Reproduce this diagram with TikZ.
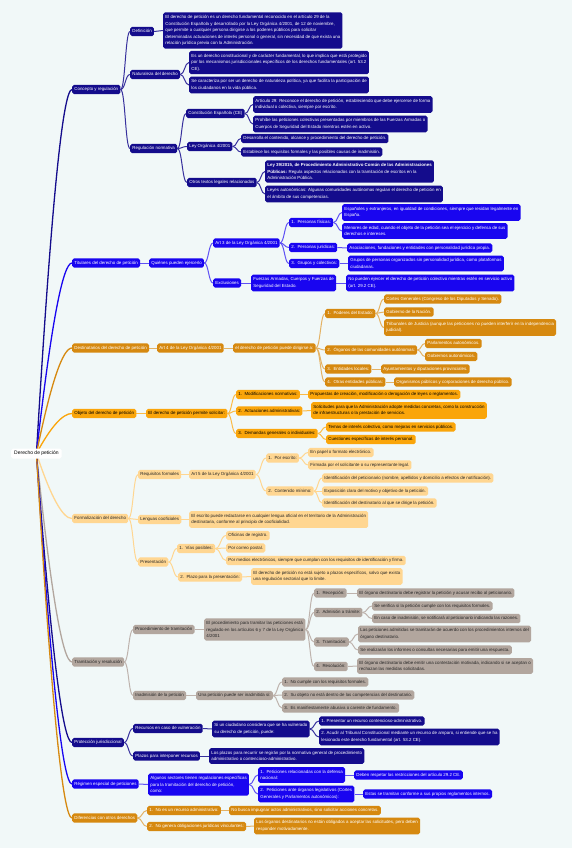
\documentclass[tikz,border=0pt]{standalone}
\usepackage{fontspec}
\setmainfont{Liberation Sans}
\usetikzlibrary{calc}
\definecolor{bgc}{RGB}{241,248,248}
\definecolor{cnavy}{RGB}{20,12,140}
\definecolor{cblue}{RGB}{25,5,240}
\definecolor{cdor}{RGB}{214,137,16}
\definecolor{cora}{RGB}{250,165,10}
\definecolor{clor}{RGB}{255,214,145}
\definecolor{cgr}{RGB}{178,166,158}
\newcommand\fs{\fontsize{4.4}{6.5}\selectfont}
\newcommand\lk[3]{\draw[#1] (#2.east) .. controls ($(#2.east)!0.5!(#3.west |- #2.east)$) and ($(#3.west)!0.5!(#2.east |- #3.west)$) .. (#3.west);}
\newcommand\rk[2]{\draw[#1] (root.center) .. controls ($(root.center)!0.6667!(rx |- #2.west)$) and ($(#2.west)!0.6667!(rx |- #2.west)$) .. (#2.west);}
\pgfdeclarelayer{back}
\pgfdeclarelayer{lines}
\pgfsetlayers{back,lines,main}
\begin{document}
\begin{tikzpicture}[x=1pt,y=-1pt,
  every node/.style={font=\fs},
  box/.style={rounded corners=1.8pt, inner xsep=2.2pt, anchor=west},
  one/.style={box, inner ysep=2.5pt, text height=3.3pt, text depth=1.1pt},
  multi/.style={box, inner ysep=3pt, align=left},
  nv/.style={fill=cnavy, text=white},
  bl/.style={fill=cblue, text=white},
  dor/.style={fill=cdor, text=white},
  ora/.style={fill=cora, text=black},
  lor/.style={fill=clor, text=black!85},
  gr/.style={fill=cgr, text=black!85},
  lnk/.style={line width=1pt},
  lnv/.style={lnk, draw=cnavy!85},
  lbl/.style={lnk, draw=cblue!70},
  ldor/.style={lnk, draw=cdor!65},
  lora/.style={lnk, draw=cora!75},
  llor/.style={lnk, draw=clor},
  lgr/.style={lnk, draw=cgr!85},
  rl/.style={line width=1.3pt}
]
\useasboundingbox (0,0) rectangle (572,848);
\coordinate (rx) at (58,0);
% root
\node[box, fill=white, text=black, inner xsep=3pt, inner ysep=2.5pt, text height=3.8pt, text depth=1.2pt, font=\fontsize{5}{6}\selectfont] (root) at (11,453.5) {Derecho de petición};
% ---------------- Concepto
\node[one,nv] (con) at (72,89.5) {Concepto y regulación};
\node[one,nv] (def) at (130,31.5) {Definición};
\node[multi,nv] (defT) at (163,30.5) {El derecho de petición es un derecho fundamental reconocido en el artículo 29 de la\\Constitución Española y desarrollado por la Ley Orgánica 4/2001, de 12 de noviembre,\\que permite a cualquier persona dirigirse a los poderes públicos para solicitar\\determinadas actuaciones de interés personal o general, sin necesidad de que exista una\\relación jurídica previa con la Administración.};
\node[one,nv] (nat) at (130,74.5) {Naturaleza del derecho};
\node[multi,nv] (nat1) at (189,62.5) {Es un derecho constitucional y de carácter fundamental, lo que implica que está protegido\\por los mecanismos jurisdiccionales específicos de los derechos fundamentales (art. 53.2\\CE).};
\node[multi,nv] (nat2) at (189,85) {Se caracteriza por ser un derecho de naturaleza política, ya que facilita la participación de\\los ciudadanos en la vida pública.};
\node[one,nv] (reg) at (130,148.5) {Regulación normativa};
\node[one,nv] (ce) at (186,113.5) {Constitución Española (CE)};
\node[multi,nv] (a29) at (253,104.5) {Artículo 29: Reconoce el derecho de petición, estableciendo que debe ejercerse de forma\\individual o colectiva, siempre por escrito.};
\node[multi,nv] (proh) at (253,124) {Prohíbe las peticiones colectivas presentadas por miembros de las Fuerzas Armadas o\\Cuerpos de Seguridad del Estado mientras estén en activo.};
\node[one,nv] (lo) at (187,146.5) {Ley Orgánica 4/2001};
\node[one,nv] (desa) at (241,138.5) {Desarrolla el contenido, alcance y procedimiento del derecho de petición.};
\node[one,nv] (esta) at (241,152) {Establece los requisitos formales y las posibles causas de inadmisión.};
\node[one,nv] (otr) at (187,182.5) {Otros textos legales relacionados};
\node[multi,nv] (l39) at (265,171.5) {{\bfseries Ley 39/2015, de Procedimiento Administrativo Común de las Administraciones}\\{\bfseries Públicas:} Regula aspectos relacionados con la tramitación de escritos en la\\Administración Pública.};
\node[multi,nv] (lau) at (265,194) {Leyes autonómicas: Algunas comunidades autónomas regulan el derecho de petición en\\el ámbito de sus competencias.};
% ---------------- Titulares
\node[one,bl] (tit) at (72,263) {Titulares del derecho de petición};
\node[one,bl] (qui) at (149,263) {Quiénes pueden ejercerlo};
\node[one,bl] (art3) at (213,243) {Art 3 de la Ley Orgánica 4/2001};
\node[one,bl] (exc) at (213,283) {Exclusiones};
\node[multi,bl] (fue) at (251,283) {Fuerzas Armadas, Cuerpos y Fuerzas de\\Seguridad del Estado.};
\node[multi,bl] (nop) at (346,283) {No pueden ejercer el derecho de petición colectivo mientras estén en servicio activo\\(art. 29.2 CE).};
\node[one,bl] (pf) at (289,222.5) {1.~~Personas físicas:};
\node[multi,bl] (esp) at (342,212.5) {Españoles y extranjeros, en igualdad de condiciones, siempre que residan legalmente en\\España.};
\node[multi,bl] (men) at (342,231) {Menores de edad, cuando el objeto de la petición sea el ejercicio y defensa de sus\\derechos e intereses.};
\node[one,bl] (pj) at (289,247.5) {2.~~Personas jurídicas:};
\node[one,bl] (aso) at (347,248) {Asociaciones, fundaciones y entidades con personalidad jurídica propia.};
\node[one,bl] (gc) at (289,263.5) {3.~~Grupos y colectivos:};
\node[multi,bl] (gru) at (348,263.5) {Grupos de personas organizados sin personalidad jurídica, como plataformas\\ciudadanas.};
% ---------------- Destinatarios
\node[one,dor] (des) at (72,348) {Destinatarios del derecho de petición};
\node[one,dor] (art4) at (157,348) {Art 4 de la Ley Orgánica 4/2001};
\node[one,dor] (dir) at (233,348) {el derecho de petición puede dirigirse a:};
\node[one,dor] (pod) at (325,313.5) {1.~~Poderes del Estado:};
\node[one,dor] (cor) at (384,299) {Cortes Generales (Congreso de los Diputados y Senado).};
\node[one,dor] (gob) at (384,312) {Gobierno de la Nación.};
\node[multi,dor] (tri) at (384,327.5) {Tribunales de Justicia (aunque las peticiones no pueden interferir en la independencia\\judicial).};
\node[one,dor] (org) at (325,350) {2.~~Órganos de las comunidades autónomas:};
\node[one,dor] (par) at (425,343.5) {Parlamentos autonómicos.};
\node[one,dor] (goa) at (425,356.5) {Gobiernos autonómicos.};
\node[one,dor] (ent) at (325,369) {3.~~Entidades locales:};
\node[one,dor] (ayu) at (381,369) {Ayuntamientos y diputaciones provinciales.};
\node[one,dor] (oep) at (325,382) {4.~~Otras entidades públicas:};
\node[one,dor] (orp) at (394,382) {Organismos públicos y corporaciones de derecho público.};
% ---------------- Objeto
\node[one,ora] (obj) at (72,413.5) {Objeto del derecho de petición};
\node[one,ora] (per) at (146,413.5) {El derecho de petición permite solicitar:};
\node[one,ora] (mod) at (236,394.5) {1.~~Modificaciones normativas:};
\node[one,ora] (pro) at (308,394.5) {Propuestas de creación, modificación o derogación de leyes o reglamentos.};
\node[one,ora] (act) at (236,411) {2.~~Actuaciones administrativas:};
\node[multi,ora] (sol) at (311,410.5) {Solicitudes para que la Administración adopte medidas concretas, como la construcción\\de infraestructuras o la prestación de servicios.};
\node[one,ora] (dem) at (236,433.5) {3.~~Demandas generales o individuales:};
\node[one,ora] (tem) at (326,427) {Temas de interés colectivo, como mejoras en servicios públicos.};
\node[one,ora] (cue) at (326,439.5) {Cuestiones específicas de interés personal.};
% ---------------- Formalizacion
\node[one,lor] (for) at (72,518.5) {Formalización del derecho};
\node[one,lor] (req) at (138,474.5) {Requisitos formales};
\node[one,lor] (art5) at (189,474.5) {Art 5 de la Ley Orgánica 4/2001};
\node[one,lor] (esc) at (266,458) {1.~~Por escrito:};
\node[one,lor] (pap) at (308,452.5) {En papel o formato electrónico.};
\node[one,lor] (fir) at (308,465) {Firmada por el solicitante o su representante legal.};
\node[one,lor] (cmi) at (266,491) {2.~~Contenido mínimo:};
\node[one,lor] (id1) at (322,478) {Identificación del peticionario (nombre, apellidos y domicilio a efectos de notificación).};
\node[one,lor] (exp) at (322,491) {Exposición clara del motivo y objetivo de la petición.};
\node[one,lor] (id2) at (322,503) {Identificación del destinatario al que se dirige la petición.};
\node[one,lor] (len) at (138,519.5) {Lenguas cooficiales};
\node[multi,lor] (lenT) at (189,519.5) {El escrito puede redactarse en cualquier lengua oficial en el territorio de la Administración\\destinataria, conforme al principio de cooficialidad.};
\node[one,lor] (pre) at (138,562) {Presentación};
\node[one,lor] (via) at (177,548.5) {1.~~Vías posibles:};
\node[one,lor] (ofi) at (226,535.5) {Oficinas de registro.};
\node[one,lor] (cpo) at (226,548) {Por correo postal.};
\node[one,lor] (mel) at (226,560.5) {Por medios electrónicos, siempre que cumplan con los requisitos de identificación y firma.};
\node[one,lor] (pla) at (178,577) {2.~~Plazo para la presentación:};
\node[multi,lor] (plaT) at (251,576.5) {El derecho de petición no está sujeto a plazos específicos, salvo que exista\\una regulación sectorial que lo limite.};
% ---------------- Tramitacion
\node[one,gr] (tra) at (72,662) {Tramitación y resolución};
\node[one,gr] (prc) at (133,629.5) {Procedimiento de tramitación};
\node[multi,gr] (prcT) at (204,629.5) {El procedimiento para tramitar las peticiones está\\regulado en los artículos 6 y 7 de la Ley Orgánica\\4/2001};
\node[one,gr] (rec) at (314,593) {1.~~Recepción:};
\node[one,gr] (recT) at (357,593) {El órgano destinatario debe registrar la petición y acusar recibo al peticionario.};
\node[one,gr] (adm) at (314,612.5) {2.~~Admisión a trámite:};
\node[one,gr] (ver) at (372,606) {Se verifica si la petición cumple con los requisitos formales.};
\node[one,gr] (cas) at (372,618.5) {En caso de inadmisión, se notificará al peticionario indicando las razones.};
\node[one,gr] (trm) at (314,642) {3.~~Tramitación:};
\node[multi,gr] (adT) at (358,634) {Las peticiones admitidas se tramitarán de acuerdo con los procedimientos internos del\\órgano destinatario.};
\node[one,gr] (rea) at (358,650) {Se realizarán los informes o consultas necesarias para emitir una respuesta.};
\node[one,gr] (res) at (314,666.5) {4.~~Resolución:};
\node[multi,gr] (resT) at (357,666) {El órgano destinatario debe emitir una contestación motivada, indicando si se aceptan o\\rechazan las medidas solicitadas.};
\node[one,gr] (ina) at (133,695.5) {Inadmisión de la petición};
\node[one,gr] (una) at (196,695.5) {Una petición puede ser inadmitida si:};
\node[one,gr] (n1) at (282,682) {1.~~No cumple con los requisitos formales.};
\node[one,gr] (n2) at (282,695) {2.~~Su objeto no está dentro de las competencias del destinatario.};
\node[one,gr] (n3) at (282,708) {3.~~Es manifiestamente abusiva o carente de fundamento.};
% ---------------- Proteccion
\node[one,nv] (prt) at (72,742.5) {Protección jurisdiccional};
\node[one,nv] (rcv) at (133,728.5) {Recursos en caso de vulneración};
\node[multi,nv] (siu) at (212,729) {Si un ciudadano considera que se ha vulnerado\\su derecho de petición, puede:};
\node[one,nv] (pr1) at (319,721) {1. Presentar un recurso contencioso-administrativo.};
\node[multi,nv] (pr2) at (319,737) {2. Acudir al Tribunal Constitucional mediante un recurso de amparo, si entiende que se ha\\lesionado este derecho fundamental (art. 53.2 CE).};
\node[one,nv] (pir) at (133,756) {Plazos para interponer recursos};
\node[multi,nv] (lpr) at (209,756) {Los plazos para recurrir se regirán por la normativa general de procedimiento\\administrativo o contencioso-administrativo.};
% ---------------- Regimen
\node[one,bl] (rge) at (72,784) {Régimen especial de peticiones};
\node[multi,bl] (alg) at (148,784.5) {Algunos sectores tienen regulaciones específicas\\para la tramitación del derecho de petición,\\como:};
\node[multi,bl] (pdn) at (258,775) {1.~~Peticiones relacionadas con la defensa\\nacional:};
\node[one,bl] (deb) at (354,775) {Deben respetar las restricciones del artículo 29.2 CE.};
\node[multi,bl] (pol) at (258,794) {2.~~Peticiones ante órganos legislativos (Cortes\\Generales y Parlamentos autonómicos):};
\node[one,bl] (est) at (363,794) {Estas se tramitan conforme a sus propios reglamentos internos.};
% ---------------- Diferencias
\node[one,dor] (dif) at (72,818) {Diferencias con otros derechos};
\node[one,dor] (d1) at (147,810.5) {1.~~No es un recurso administrativo:};
\node[one,dor] (nob) at (229,810.5) {No busca impugnar actos administrativos, sino solicitar acciones concretas.};
\node[one,dor] (d2) at (147,826.5) {2.~~No genera obligaciones jurídicas vinculantes:};
\node[multi,dor] (los) at (254,826) {Los órganos destinatarios no están obligados a aceptar las solicitudes, pero deben\\responder motivadamente.};
% ---------------- background and connectors
\begin{pgfonlayer}{back}
\fill[bgc] (0,0) rectangle (572,848);
\end{pgfonlayer}
\begin{pgfonlayer}{lines}
\rk{rl,draw=cnavy}{con}
\rk{rl,draw=cblue}{tit}
\rk{rl,draw=cdor}{des}
\rk{rl,draw=cora}{obj}
\rk{rl,draw=clor}{for}
\rk{rl,draw=cgr}{tra}
\rk{rl,draw=cnavy}{prt}
\rk{rl,draw=cblue}{rge}
\rk{rl,draw=cdor}{dif}
% concepto
\lk{lnv}{con}{def}\lk{lnv}{con}{nat}\lk{lnv}{con}{reg}
\lk{lnv}{def}{defT}
\lk{lnv}{nat}{nat1}\lk{lnv}{nat}{nat2}
\lk{lnv}{reg}{ce}\lk{lnv}{reg}{lo}\lk{lnv}{reg}{otr}
\lk{lnv}{ce}{a29}\lk{lnv}{ce}{proh}
\lk{lnv}{lo}{desa}\lk{lnv}{lo}{esta}
\lk{lnv}{otr}{l39}\lk{lnv}{otr}{lau}
% titulares
\lk{lbl}{tit}{qui}
\lk{lbl}{qui}{art3}\lk{lbl}{qui}{exc}
\lk{lbl}{art3}{pf}\lk{lbl}{art3}{pj}\lk{lbl}{art3}{gc}
\lk{lbl}{pf}{esp}\lk{lbl}{pf}{men}
\lk{lbl}{pj}{aso}\lk{lbl}{gc}{gru}
\lk{lbl}{exc}{fue}\lk{lbl}{fue}{nop}
% destinatarios
\lk{ldor}{des}{art4}\lk{ldor}{art4}{dir}
\lk{ldor}{dir}{pod}\lk{ldor}{dir}{org}\lk{ldor}{dir}{ent}\lk{ldor}{dir}{oep}
\lk{ldor}{pod}{cor}\lk{ldor}{pod}{gob}\lk{ldor}{pod}{tri}
\lk{ldor}{org}{par}\lk{ldor}{org}{goa}
\lk{ldor}{ent}{ayu}\lk{ldor}{oep}{orp}
% objeto
\lk{lora}{obj}{per}
\lk{lora}{per}{mod}\lk{lora}{per}{act}\lk{lora}{per}{dem}
\lk{lora}{mod}{pro}\lk{lora}{act}{sol}
\lk{lora}{dem}{tem}\lk{lora}{dem}{cue}
% formalizacion
\lk{llor}{for}{req}\lk{llor}{for}{len}\lk{llor}{for}{pre}
\lk{llor}{req}{art5}
\lk{llor}{art5}{esc}\lk{llor}{art5}{cmi}
\lk{llor}{esc}{pap}\lk{llor}{esc}{fir}
\lk{llor}{cmi}{id1}\lk{llor}{cmi}{exp}\lk{llor}{cmi}{id2}
\lk{llor}{len}{lenT}
\lk{llor}{pre}{via}\lk{llor}{pre}{pla}
\lk{llor}{via}{ofi}\lk{llor}{via}{cpo}\lk{llor}{via}{mel}
\lk{llor}{pla}{plaT}
% tramitacion
\lk{lgr}{tra}{prc}\lk{lgr}{tra}{ina}
\lk{lgr}{prc}{prcT}
\lk{lgr}{prcT}{rec}\lk{lgr}{prcT}{adm}\lk{lgr}{prcT}{trm}\lk{lgr}{prcT}{res}
\lk{lgr}{rec}{recT}
\lk{lgr}{adm}{ver}\lk{lgr}{adm}{cas}
\lk{lgr}{trm}{adT}\lk{lgr}{trm}{rea}
\lk{lgr}{res}{resT}
\lk{lgr}{ina}{una}
\lk{lgr}{una}{n1}\lk{lgr}{una}{n2}\lk{lgr}{una}{n3}
% proteccion
\lk{lnv}{prt}{rcv}\lk{lnv}{prt}{pir}
\lk{lnv}{rcv}{siu}
\lk{lnv}{siu}{pr1}\lk{lnv}{siu}{pr2}
\lk{lnv}{pir}{lpr}
% regimen
\lk{lbl}{rge}{alg}
\lk{lbl}{alg}{pdn}\lk{lbl}{alg}{pol}
\lk{lbl}{pdn}{deb}\lk{lbl}{pol}{est}
% diferencias
\lk{ldor}{dif}{d1}\lk{ldor}{dif}{d2}
\lk{ldor}{d1}{nob}\lk{ldor}{d2}{los}
\end{pgfonlayer}
\end{tikzpicture}
\end{document}
